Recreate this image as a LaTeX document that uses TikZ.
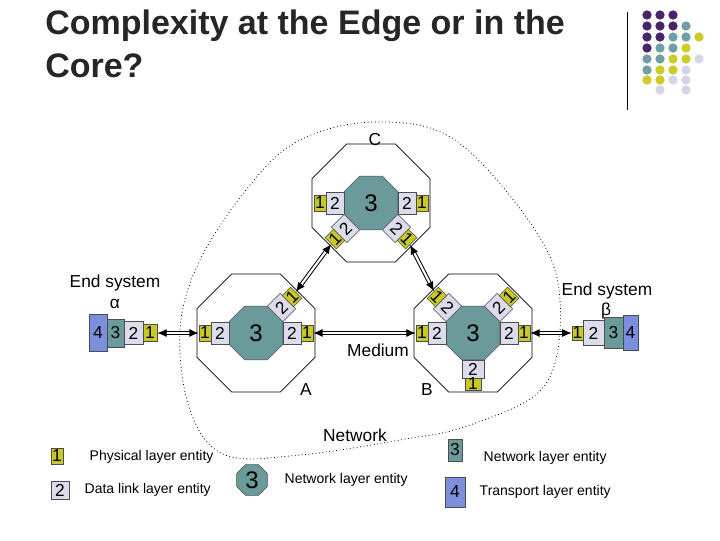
\documentclass[tikz,border=0pt]{standalone}
\usepackage{fontspec}
\setmainfont{Liberation Sans}
\usetikzlibrary{shapes.geometric,arrows.meta,calc}
\definecolor{teal3}{HTML}{6A9A9A}
\definecolor{lav}{HTML}{DCDCEC}
\definecolor{yel}{HTML}{C8C828}
\definecolor{blu}{HTML}{7B8FDC}
\definecolor{purp}{HTML}{4A2468}
\definecolor{dteal}{HTML}{6F9FA3}
\definecolor{dyel}{HTML}{CDCB2A}
\definecolor{dlav}{HTML}{D4D6E8}
\tikzset{
 box/.style={draw=black!70,line width=0.4pt,inner sep=0pt,font=\fontsize{13}{13}\selectfont},
 b2/.style={box,fill=lav,minimum width=13.5pt,minimum height=16.5pt},
 b1/.style={box,fill=yel,minimum width=9pt,minimum height=12pt},
 outer/.style={draw,regular polygon,regular polygon sides=8,minimum size=95.7pt,inner sep=0pt,line width=0.5pt},
 inner/.style={draw=black!70,fill=teal3,regular polygon,regular polygon sides=8,minimum size=43.8pt,inner sep=0pt,font=\fontsize{18}{18}\selectfont},
 link/.style={double=white,double distance=1.6pt,line width=0.75pt,{Latex[length=7pt,width=6pt]}-{Latex[length=7pt,width=6pt]}},
 lbl/.style={font=\fontsize{13}{13}\selectfont},
 leg/.style={font=\fontsize{10.5}{11}\selectfont,anchor=west},
 dot/.style={circle,inner sep=0pt,minimum size=7pt}
}
\newcommand\myport[4]{%
 \node[b2,rotate=#3] (#4-2) at ($(#1)+(#2:36)$) {2};
 \node[b1,rotate=#3] (#4-1) at ($(#1)+(#2:51)$) {1};}
\begin{document}
\begin{tikzpicture}[x=0.75pt,y=0.75pt]
\useasboundingbox (0,0) rectangle (720,540);
% title
\node[anchor=north west,align=left,inner sep=0pt,font=\bfseries\fontsize{25.5}{32}\selectfont,text=black!85] (title) at (45,530) {Complexity at the Edge or in the\\Core?};
\draw[line width=0.6pt] (627,430) -- (627,528);
% dots
\foreach \row/\ys/\cols in {1/525/{1/purp,2/purp,3/purp},2/514/{1/purp,2/purp,3/purp,4/dteal},3/503/{1/purp,2/purp,3/dteal,4/dteal,5/dyel},4/492/{1/purp,2/dteal,3/dteal,4/dyel},5/481/{1/dteal,2/dteal,3/dyel,4/dyel,5/dlav},6/470/{1/dteal,2/dyel,3/dyel,4/dlav},7/460/{1/dyel,2/dyel,3/dlav,4/dlav},8/450/{2/dlav,4/dlav}}{
 \foreach \c/\col in \cols {\node[dot,fill=\col] (d\row\c) at ({634+13*\c},\ys) {};}}
% network boundary
\draw[dotted,line width=0.6pt] plot[smooth cycle,tension=0.6] coordinates {(300,400) (375,418) (455,400) (535,310) (560,240) (545,155) (470,115) (400,100) (300,85) (225,85) (190,130) (180,210) (200,280) (250,355)};
% routers
\coordinate (Cc) at (371,337);
\coordinate (Ac) at (256,207);
\coordinate (Bc) at (473,207);
\node[outer] (Co) at (Cc) {};
\node[outer] (Ao) at (Ac) {};
\node[outer] (Bo) at (Bc) {};
\node[inner] (Ci) at (Cc) {3};
\node[inner] (Ai) at (Ac) {3};
\node[inner] (Bi) at (Bc) {3};
\myport{Cc}{180}{0}{C180}
\myport{Cc}{0}{0}{C0}
\myport{Cc}{225}{45}{C225}
\myport{Cc}{315}{-45}{C315}
\myport{Ac}{180}{0}{A180}
\myport{Ac}{0}{0}{A0}
\myport{Ac}{45}{45}{A45}
\myport{Bc}{180}{0}{B180}
\myport{Bc}{0}{0}{B0}
\myport{Bc}{135}{-45}{B135}
\myport{Bc}{45}{45}{B45}
\node[b2,minimum width=16.5pt,minimum height=13.5pt] (B270-2) at ($(Bc)+(0,-36)$) {2};
\node[b1,minimum width=12pt,minimum height=9pt] (B270-1) at ($(Bc)+(0,-51)$) {1};
% end systems
\node[box,fill=blu,minimum width=13.5pt,minimum height=27.75pt] (a4) at (98,207) {4};
\node[box,fill=teal3,minimum width=12.75pt,minimum height=21pt] (a3) at (115.5,207) {3};
\node[b2,minimum width=14.25pt,minimum height=17pt] (a2) at (133.5,207) {2};
\node[b1,minimum width=10.5pt,minimum height=12.75pt] (a1) at (150,207) {1};
\node[b1,minimum width=8.5pt,minimum height=10.5pt] (e1) at (577.5,207) {1};
\node[b2,minimum width=15.75pt,minimum height=18.75pt] (e2) at (593.5,207) {2};
\node[box,fill=teal3,minimum width=14.25pt,minimum height=23pt] (e3) at (613.5,207) {3};
\node[box,fill=blu,minimum width=11.25pt,minimum height=26.25pt] (e4) at (630.5,207) {4};
% links
\draw[link] (a1) -- (A180-1);
\draw[link] (A0-1) -- (B180-1);
\draw[link] (B0-1) -- (e1);
\draw[link] (C225-1) -- (A45-1);
\draw[link] (C315-1) -- (B135-1);
% labels
\node[lbl] (lC) at (375,400) {C};
\node[lbl] (lA) at (306,150) {A};
\node[lbl] (lB) at (427,150) {B};
\node[lbl] (lM) at (378,190) {Medium};
\node[lbl] (lN) at (355,105) {Network};
\node[lbl] (es1) at (115,257) {End system};
\node[lbl] (al) at (115,236) {α};
\node[lbl] (es2) at (607,249) {End system};
\node[lbl] (be) at (606,229) {β};
% legend
\node[b1,minimum width=9pt,minimum height=12pt] (L1) at (57,84) {1};
\node[leg] (L1t) at (85,83) {Physical layer entity};
\node[b2,minimum width=13.5pt,minimum height=13.5pt] (L2) at (60,50) {2};
\node[leg] (L2t) at (80,50) {Data link layer entity};
\node[inner,minimum size=25pt] (L3) at (252,60) {3};
\node[leg] (L3t) at (280,60) {Network layer entity};
\node[box,fill=teal3,minimum width=10.5pt,minimum height=16.5pt] (L4) at (455,90) {3};
\node[leg] (L4t) at (479,82) {Network layer entity};
\node[box,fill=blu,minimum width=15pt,minimum height=22.5pt] (L5) at (455,48) {4};
\node[leg] (L5t) at (475,48) {Transport layer entity};
\end{tikzpicture}
\end{document}
